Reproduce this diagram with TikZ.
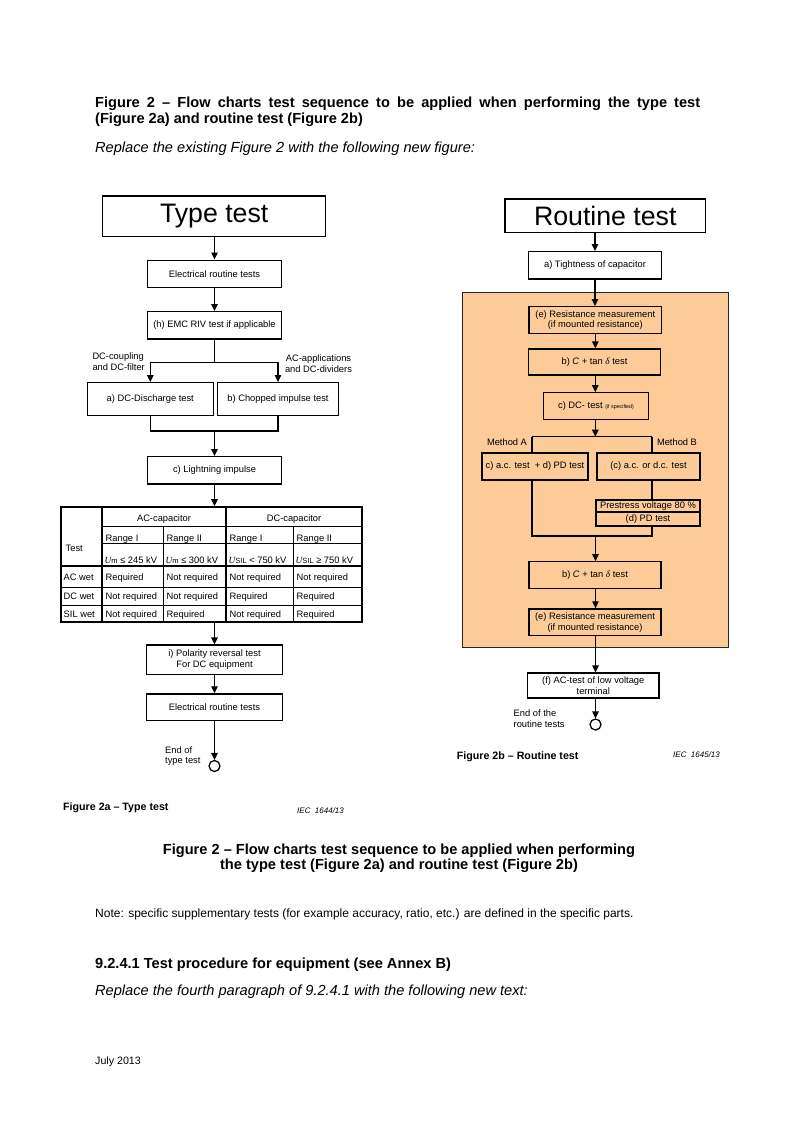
\documentclass[tikz,border=0pt]{standalone}
\usepackage{fontspec}
\setmainfont{Liberation Sans}
\newfontfamily\tnr{Liberation Serif}
\usetikzlibrary{arrows.meta,calc}
\definecolor{peach}{HTML}{FCCB98}
\newcommand\fsbox{\fontsize{9.33}{10.7}\selectfont}
\newcommand\fsbig{\fontsize{26.7}{30}\selectfont}
\newcommand\fsbody{\fontsize{14.6}{17}\selectfont}
\newcommand\fscap{\fontsize{10.67}{12.5}\selectfont}
\newcommand\fsnote{\fontsize{12}{14}\selectfont}
\newcommand\fsiec{\fontsize{8}{9.5}\selectfont}
\newcommand\fstiny{\fontsize{5.3}{6}\selectfont}
\newcommand\Ui{{\tnr\itshape U}}
\newcommand\dlt{{\tnr\itshape δ}}
\begin{document}
\begin{tikzpicture}[x=1pt,y=-1pt,
  box/.style={draw, line width=1.25pt, font=\fsbox, align=center, inner sep=0pt},
  arr/.style={line width=1.25pt, -{Triangle[length=7pt,width=6.5pt]}},
  ln/.style={line width=1.25pt},
  lbl/.style={font=\fsbox, inner sep=0pt},
  txt/.style={inner sep=0pt, anchor=base west},
  tk/.style={line width=1.7pt},
  tn/.style={line width=0.8pt},
  cell/.style={font=\fsbox, inner sep=0pt, anchor=base west}]
\useasboundingbox (0,0) rectangle (793,1122);
% ---------- page text ----------
\node[txt, font=\bfseries\fsbody] (h1) at (95,107) {\makebox[605pt][s]{Figure 2 – Flow charts test sequence to be applied when performing the type test}};
\node[txt, font=\bfseries\fsbody] (h2) at (95,123.5) {(Figure 2a) and routine test (Figure 2b)};
\node[txt, font=\itshape\fsbody] (h3) at (95,152) {Replace the existing Figure 2 with the following new figure:};
% ---------- left flowchart: Type test ----------
\node[box, line width=1.3pt, font=\fsbig, minimum width=223pt, minimum height=40.7pt] (type) at (214.2,216.4) {Type test};
\node[box, minimum width=133.4pt, minimum height=27.7pt] (ert1) at (214.5,274) {Electrical routine tests};
\node[box, minimum width=133.4pt, minimum height=27.3pt] (emc) at (214.5,325.3) {(h) EMC RIV test if applicable};
\node[box, minimum width=126pt, minimum height=33pt] (dcd) at (150.3,399.2) {a) DC-Discharge test};
\node[box, minimum width=121.4pt, minimum height=33pt] (chop) at (278,399.2) {b) Chopped impulse test};
\node[box, minimum width=133.4pt, minimum height=27.3pt] (light) at (214.5,470.3) {c) Lightning impulse};
\node[lbl, align=left, anchor=west] (lab1) at (92.3,362) {DC-coupling\\and DC-filter};
\node[lbl, align=center] (lab2) at (318.5,363.5) {AC-applications\\and DC-dividers};
\draw[arr] (ert1.north |- type.south) -- (ert1);
\draw[arr] (ert1) -- (emc);
\coordinate (split) at (214.5,362.3);
\coordinate (join) at (214.5,431);
\draw[ln] (emc) -- (split);
\draw[arr] (split) -| (dcd);
\draw[arr] (split) -| (chop);
\draw[ln] (dcd) |- (join);
\draw[ln] (chop) |- (join);
\draw[arr] (join) -- (light);
% table
\node[draw, tk, minimum width=301pt, minimum height=115pt, inner sep=0pt] (tbl) at (211.5,564.5) {};
\draw[tk] (102,507) -- (102,622);
\draw[tk] (226,507) -- (226,622);
\draw[tn] (163,526) -- (163,622);
\draw[tn] (293,526) -- (293,622);
\draw[tn] (102,526) -- (362,526);
\draw[tn] (102,543.5) -- (362,543.5);
\draw[tk] (61,566) -- (362,566);
\draw[tn] (61,587) -- (362,587);
\draw[tn] (61,605) -- (362,605);
\node[font=\fsbox, inner sep=0pt, anchor=base] (acc) at (164,521.5) {AC-capacitor};
\node[font=\fsbox, inner sep=0pt, anchor=base] (dcc) at (294,521.5) {DC-capacitor};
\node[cell, anchor=west] (tst) at (65.5,548) {Test};
\node[cell] (r1) at (105.5,541) {Range I};
\node[cell] (r2) at (166.5,541) {Range II};
\node[cell] (r3) at (229.5,541) {Range I};
\node[cell] (r4) at (296.5,541) {Range II};
\node[cell] (u1) at (104.5,563) {\Ui{\fontsize{7.5}{8}\selectfont m} ≤ 245 kV};
\node[cell] (u2) at (165.5,563) {\Ui{\fontsize{7.5}{8}\selectfont m} ≤ 300 kV};
\node[cell] (u3) at (228.5,563) {\Ui{\fontsize{7.5}{8}\selectfont SIL} < 750 kV};
\node[cell] (u4) at (295.5,563) {\Ui{\fontsize{7.5}{8}\selectfont SIL} ≥ 750 kV};
\node[cell] (w1) at (63.5,580.5) {AC wet};
\node[cell] (w2) at (63.5,599.5) {DC wet};
\node[cell] (w3) at (63.5,617.5) {SIL wet};
\node[cell] (a1) at (105.5,580.5) {Required};
\node[cell] (a2) at (166.5,580.5) {Not required};
\node[cell] (a3) at (229.5,580.5) {Not required};
\node[cell] (a4) at (296.5,580.5) {Not required};
\node[cell] (b1c) at (105.5,599.5) {Not required};
\node[cell] (b2c) at (166.5,599.5) {Not required};
\node[cell] (b3c) at (229.5,599.5) {Required};
\node[cell] (b4c) at (296.5,599.5) {Required};
\node[cell] (c1c) at (105.5,617.5) {Not required};
\node[cell] (c2c) at (166.5,617.5) {Required};
\node[cell] (c3c) at (229.5,617.5) {Not required};
\node[cell] (c4c) at (296.5,617.5) {Required};
\draw[arr] (light) -- (light.south |- tbl.north);
\node[box, minimum width=135.6pt, minimum height=29.3pt] (pol) at (214.5,659.7) {i) Polarity reversal test\\For DC equipment};
\node[box, minimum width=135.6pt, minimum height=26.7pt] (ert2) at (214.5,707.3) {Electrical routine tests};
\node[circle, draw, line width=1.25pt, minimum size=11pt, inner sep=0pt] (end1) at (214.5,766) {};
\draw[arr] (pol.north |- tbl.south) -- (pol);
\draw[arr] (pol) -- (ert2);
\draw[arr] (ert2) -- (end1);
\node[lbl, align=left, anchor=west] (endl) at (165,756) {End of\\type test};
\node[txt, font=\bfseries\fscap] (cap2a) at (63,810.5) {Figure 2a – Type test};
\node[txt, font=\itshape\fsiec] (iec1) at (297,813.5) {IEC\ \ 1644/13};
% ---------- right flowchart: Routine test ----------
\node[draw=black!85, fill=peach, line width=1.25pt, minimum width=266pt, minimum height=355pt, inner sep=0pt] (panel) at (595.3,470.2) {};
\node[box, line width=1.3pt, font=\fsbig, minimum width=200.7pt, minimum height=33.3pt] (routine) at (605.3,215.7) {Routine test};
\node[box, minimum width=133.4pt, minimum height=27.3pt] (tight) at (595,265.3) {a) Tightness of capacitor};
\node[box, minimum width=132.7pt, minimum height=26.7pt] (res1) at (595.3,320) {(e) Resistance measurement\\(if mounted resistance)};
\node[box, minimum width=132.4pt, minimum height=26pt] (ctan1) at (594.5,362) {b) \textit{C} + tan \dlt\ test};
\node[box, minimum width=105.4pt, minimum height=26.6pt] (cdc) at (596,406) {c) DC- test {\fstiny (if specified)}};
\node[box, minimum width=106pt, minimum height=27pt] (ma) at (535,466.5) {c) a.c. test \ + d) PD test};
\node[box, minimum width=103pt, minimum height=27pt] (mb) at (648.5,466.5) {(c) a.c. or d.c. test};
\node[box, minimum width=104pt, minimum height=12pt] (preA) at (648,506) {Prestress voltage 80 \%};
\node[box, minimum width=104pt, minimum height=14pt] (preB) at (648,519) {(d) PD test};
\node[box, minimum width=132pt, minimum height=26.6pt] (ctan2) at (595,575) {b) \textit{C} + tan \dlt\ test};
\node[box, minimum width=132pt, minimum height=26.7pt] (res2) at (595,622.3) {(e) Resistance measurement\\(if mounted resistance)};
\node[box, minimum width=131.3pt, minimum height=25pt] (fac) at (593.3,685.5) {(f) AC-test of low voltage\\terminal};
\node[circle, draw, line width=1.25pt, minimum size=11pt, inner sep=0pt] (end2) at (595.5,724.5) {};
\node[lbl] (metA) at (507,442) {Method A};
\node[lbl] (metB) at (677,442) {Method B};
\coordinate (sA) at (532,436.7);
\coordinate (sB) at (652,436.7);
\coordinate (jA) at (532,536);
\coordinate (jB) at (652,536);
\coordinate (jM) at (595.5,536);
\draw[arr] (tight.south |- routine.south) -- (tight);
\draw[arr] (tight) -- (res1.north -| tight.south);
\draw[arr] (res1) -- (res1.south |- ctan1.north);
\draw[arr] (ctan1.south -| res1.south) -- (res1.south |- cdc.north);
\draw[arr] (res1.south |- cdc.south) -- (res1.south |- sA);
\draw[ln] (sA) -- (sB);
\draw[ln] (sA) -- (sA |- ma.north);
\draw[ln] (sB) -- (sB |- mb.north);
\draw[ln] (sB |- mb.south) -- (sB |- preA.north);
\draw[ln] (sA |- ma.south) -- (jA) -- (jB) -- (sB |- preB.south);
\draw[arr] (jM) -- (jM |- ctan2.north);
\draw[arr] (jM |- ctan2.south) -- (jM |- res2.north);
\draw[arr] (jM |- res2.south) -- (jM |- fac.north);
\draw[arr] (jM |- fac.south) -- (end2);
\node[lbl, align=left, anchor=west] (endr) at (513.5,719) {End of the\\routine tests};
\node[txt, font=\bfseries\fscap] (cap2b) at (456.7,759) {Figure 2b – Routine test};
\node[txt, font=\itshape\fsiec] (iec2) at (673,757) {IEC\ \ 1645/13};
% ---------- bottom text ----------
\node[inner sep=0pt, anchor=base, font=\bfseries\fsbody] (c1) at (399,854) {Figure 2 – Flow charts test sequence to be applied when performing};
\node[inner sep=0pt, anchor=base, font=\bfseries\fsbody] (c2) at (399,869) {the type test (Figure 2a) and routine test (Figure 2b)};
\node[txt, font=\fsnote] (note) at (95,917.5) {Note: specific supplementary tests (for example accuracy, ratio, etc.) are defined in the specific parts.};
\node[txt, font=\bfseries\fsbody] (sec) at (95,968) {9.2.4.1 Test procedure for equipment (see Annex B)};
\node[txt, font=\itshape\fsbody] (rep) at (95,995.5) {Replace the fourth paragraph of 9.2.4.1 with the following new text:};
\node[txt, font=\fscap] (date) at (95,1064) {July 2013};
\end{tikzpicture}
\end{document}
